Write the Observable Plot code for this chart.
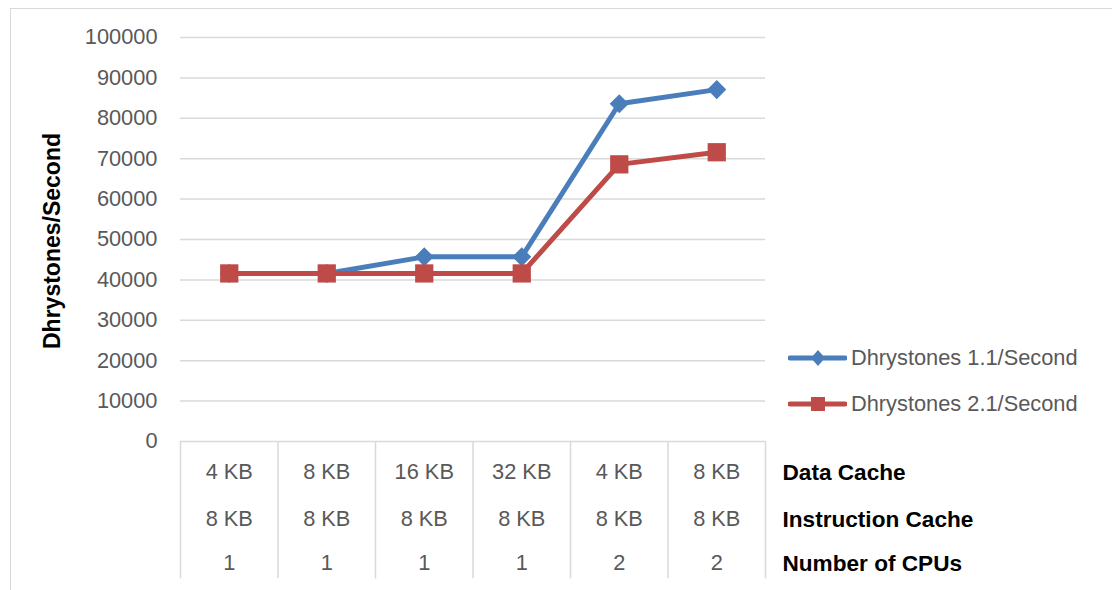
<!DOCTYPE html>
<html>
<head>
<meta charset="utf-8">
<script src="https://cdn.jsdelivr.net/npm/d3@7"></script>
<script src="https://cdn.jsdelivr.net/npm/@observablehq/plot@0.6"></script>
<style>
  html, body { margin: 0; padding: 0; background: #fff; overflow: hidden; }
  #wrap { position: relative; width: 1112px; height: 590px; overflow: hidden; font-family: "Liberation Sans", Arial, sans-serif; }
  #frame { position: absolute; left: 10px; top: 8px; width: 1200px; height: 700px; border: 1.5px solid #d9d9d9; box-sizing: border-box; }
  #chart { position: absolute; left: 0; top: 0; }
  #ytitle { position: absolute; left: 52px; top: 241px; transform: translate(-50%, -50%) rotate(-90deg); font-weight: bold; font-size: 23px; color: #000; white-space: nowrap; }
  .leg { position: absolute; left: 788px; height: 30px; display: flex; align-items: center; font-size: 21.8px; color: #595959; white-space: nowrap; }
  .leg svg { margin-right: 4px; }
</style>
</head>
<body>
<div id="wrap">
  <div id="frame"></div>
  <div id="chart"></div>
  <div id="ytitle">Dhrystones/Second</div>
  <div id="legend"></div>
</div>
<script>
// ---- data ----
const dataCache = ["4 KB", "8 KB", "16 KB", "32 KB", "4 KB", "8 KB"];
const instructionCache = ["8 KB", "8 KB", "8 KB", "8 KB", "8 KB", "8 KB"];
const numCPUs = ["1", "1", "1", "1", "2", "2"];
const dhry11 = [41600, 41600, 45700, 45700, 83600, 87100];
const dhry21 = [41600, 41600, 41600, 41600, 68600, 71600];
const seriesNames = ["Dhrystones 1.1/Second", "Dhrystones 2.1/Second"];
const rowHeaders = ["Data Cache", "Instruction Cache", "Number of CPUs"];
const yTicks = [0, 10000, 20000, 30000, 40000, 50000, 60000, 70000, 80000, 90000, 100000];

const blue = "#4A7EBB";
const red = "#BE4B48";
const grid = "#d9d9d9";

const idx = dataCache.map((_, i) => i);
const s1 = idx.map(i => ({x: i + 0.5, y: dhry11[i]}));
const s2 = idx.map(i => ({x: i + 0.5, y: dhry21[i]}));
const cols = idx.map(i => ({x: i + 0.5, dc: dataCache[i], ic: instructionCache[i], cpu: numCPUs[i]}));
const bounds = d3.range(0, dataCache.length + 1);
const tableBottom = -34000;

const font = "Liberation Sans, Arial, sans-serif";
const tickSize = 21.8;
const headSize = 22.6;

const chart = Plot.plot({
  width: 1112,
  height: 590,
  marginLeft: 180,
  marginRight: 347,
  marginTop: 37,
  marginBottom: 149,
  style: {fontFamily: font, background: "transparent", overflow: "visible"},
  x: {domain: [0, dataCache.length], axis: null},
  y: {domain: [0, 100000], axis: null},
  marks: [
    Plot.ruleY(yTicks, {stroke: grid, strokeWidth: 1.5}),
    Plot.ruleX(bounds, {y1: 0, y2: tableBottom, stroke: grid, strokeWidth: 1.5}),
    Plot.text(yTicks, {x: 0, y: d => d, text: d => String(d), textAnchor: "end", dx: -23, fontSize: tickSize, fill: "#595959"}),
    Plot.text(cols, {x: "x", y: 0, text: "dc", dy: 31, fontSize: tickSize, fill: "#595959"}),
    Plot.text(cols, {x: "x", y: 0, text: "ic", dy: 78, fontSize: tickSize, fill: "#595959"}),
    Plot.text(cols, {x: "x", y: 0, text: "cpu", dy: 122, fontSize: tickSize, fill: "#595959"}),
    Plot.text([rowHeaders[0]], {x: dataCache.length, y: 0, text: d => d, dx: 17, dy: 31, textAnchor: "start", fontSize: headSize, fontWeight: "bold", fill: "#000"}),
    Plot.text([rowHeaders[1]], {x: dataCache.length, y: 0, text: d => d, dx: 17, dy: 78, textAnchor: "start", fontSize: headSize, fontWeight: "bold", fill: "#000"}),
    Plot.text([rowHeaders[2]], {x: dataCache.length, y: 0, text: d => d, dx: 17, dy: 122, textAnchor: "start", fontSize: headSize, fontWeight: "bold", fill: "#000"}),
    Plot.line(s1, {x: "x", y: "y", stroke: blue, strokeWidth: 5, strokeLinejoin: "round"}),
    Plot.dot(s1, {x: "x", y: "y", symbol: "diamond2", r: 8.6, fill: blue, stroke: "none"}),
    Plot.line(s2, {x: "x", y: "y", stroke: red, strokeWidth: 5, strokeLinejoin: "round"}),
    Plot.dot(s2, {x: "x", y: "y", symbol: "square", r: 10.3, fill: red, stroke: "none"})
  ]
});
document.getElementById("chart").appendChild(chart);

// legend
const legend = document.getElementById("legend");
const legTops = [343, 389];
seriesNames.forEach((name, i) => {
  const div = document.createElement("div");
  div.className = "leg";
  div.style.top = legTops[i] + "px";
  const color = i === 0 ? blue : red;
  const marker = i === 0
    ? `<path d="M30,7 L37,15 L30,23 L23,15 Z" fill="${color}"/>`
    : `<rect x="23" y="8" width="14" height="14" fill="${color}"/>`;
  div.innerHTML = `<svg width="59" height="30"><line x1="2" x2="57" y1="15" y2="15" stroke="${color}" stroke-width="5" stroke-linecap="round"/>${marker}</svg><span>${name}</span>`;
  legend.appendChild(div);
});
</script>
</body>
</html>
